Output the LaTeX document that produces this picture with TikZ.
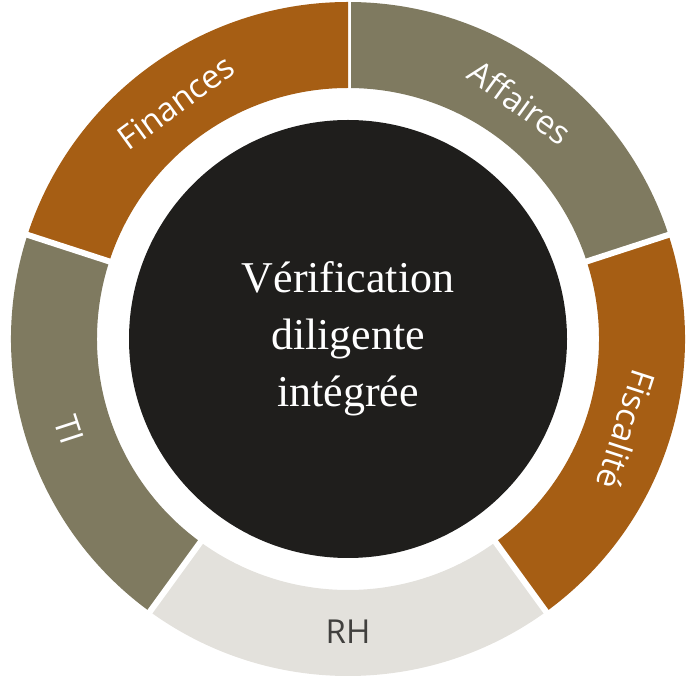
\documentclass[tikz,border=0pt]{standalone}
\usepackage{fontspec}
\usetikzlibrary{calc}
\setsansfont{Open Sans}
\setmainfont{Liberation Serif}
\definecolor{brn}{HTML}{A65E14}
\definecolor{olv}{HTML}{7F7A60}
\definecolor{lgr}{HTML}{E3E1DC}
\definecolor{drk}{HTML}{1F1E1C}
\tikzset{seglabel/.style={font=\sffamily\fontsize{33}{36}\selectfont,inner sep=0pt}}
\begin{document}
\begin{tikzpicture}[x=1pt,y=1pt]
\useasboundingbox (0,0) rectangle (696,688);
\coordinate (c) at (348,349);
\def\Ro{337}\def\Ri{251}
\foreach \a/\col in {90/olv,18/brn,-54/lgr,-126/olv,162/brn}{
  \fill[\col] ($(c)+(\a:\Ro)$) arc[start angle=\a,end angle=\a-72,radius=\Ro]
    -- ($(c)+(\a-72:\Ri)$) arc[start angle=\a-72,end angle=\a,radius=\Ri] -- cycle;
  \draw[white,line width=6] ($(c)+(\a:\Ri-5)$) -- ($(c)+(\a:\Ro+5)$);
}
\node[circle,fill=drk,minimum size=438,inner sep=0pt] (core) at (c) {};
\node[align=center,text=white,font=\fontsize{44}{57}\selectfont] (title) at (c) {Vérification\\diligente\\intégrée};
\node[seglabel,text=white,rotate=-36] (aff) at ($(c)+(54:293)$) {Affaires};
\node[seglabel,text=white,rotate=-108] (fis) at ($(c)+(-18:293)$) {Fiscalité};
\node[seglabel,text=drk!85,rotate=0] (rh) at ($(c)+(-90:293)$) {RH};
\node[seglabel,text=white,rotate=-72] (ti) at ($(c)+(-162:293)$) {TI};
\node[seglabel,text=white,rotate=36] (fin) at ($(c)+(126:293)$) {Finances};
\end{tikzpicture}
\end{document}
